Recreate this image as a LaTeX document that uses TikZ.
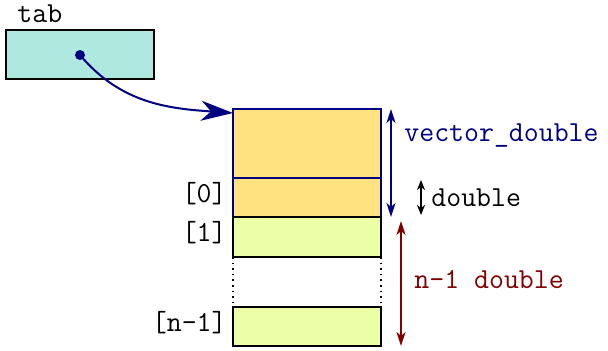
\documentclass[tikz,border=0pt]{standalone}
\usepackage{fontspec}
\usepackage{xcolor}
\usetikzlibrary{arrows.meta, positioning}
\definecolor{tabfill}{HTML}{AEE8DE}
\definecolor{vecfill}{HTML}{FFE380}
\definecolor{elemfill}{HTML}{EDFFA6}
\definecolor{navy}{HTML}{000080}
\definecolor{maroon}{HTML}{800000}
\begin{document}
\begin{tikzpicture}[x=0.5pt, y=-0.5pt, font=\ttfamily\fontsize{14.5}{17}\selectfont,
  cell/.style={draw, line width=1pt, minimum width=74pt, minimum height=20pt, inner sep=0pt, outer sep=0pt},
  vcell/.style={cell, draw=navy, fill=vecfill},
  ecell/.style={cell, draw=black, fill=elemfill},
  dim/.style={{Stealth[length=7pt, width=4.5pt, inset=2pt]}-{Stealth[length=7pt, width=4.5pt, inset=2pt]}, line width=1pt}]
\useasboundingbox (0,0) rectangle (608,351);
\node[cell, fill=tabfill, minimum height=24.5pt, anchor=north west] (tab) at (6,30) {};
\node[anchor=base west, inner sep=0pt] (tablbl) at (17,23) {tab};
\coordinate (ptr) at (80,55);
\node[vcell, minimum height=34.5pt, anchor=north west] (head) at (233,109) {};
\node[vcell, minimum height=19.5pt, below=0pt of head] (e0) {};
\node[ecell, below=0pt of e0] (e1) {};
\node[ecell, minimum height=19.5pt, below=25pt of e1] (en) {};
\draw[dotted, line width=0.8pt] (e1.south west) -- (en.north west);
\draw[dotted, line width=0.8pt] (e1.south east) -- (en.north east);
\node[anchor=north east, inner sep=2pt] (l0) at ([xshift=-1pt]e0.north west) {[0]};
\node[anchor=north east, inner sep=2pt] (l1) at ([xshift=-1pt]e1.north west) {[1]};
\node[anchor=north east, inner sep=2pt] (ln) at ([xshift=-1pt]en.north west) {[n-1]};
\fill[navy] (ptr) circle (2.5pt);
\draw[navy, line width=1pt, -{Stealth[length=16pt, width=10pt, inset=5pt]}] (ptr) to[out=-50, in=176] ([yshift=-2pt]head.north west);
\draw[dim, navy] ([xshift=5pt]head.north east) -- ([xshift=5pt]e0.south east);
\node[navy, anchor=west, inner sep=0pt] (vlbl) at (404,136) {vector\_double};
\draw[dim, {Stealth[length=5pt, width=4pt, inset=1.5pt]}-{Stealth[length=5pt, width=4pt, inset=1.5pt]}] ([xshift=20pt, yshift=-1pt]e0.north east) -- ([xshift=20pt, yshift=1pt]e0.south east);
\node[anchor=west, inner sep=0pt] (dlbl) at (431,198) {double};
\draw[dim, maroon] ([xshift=10pt, yshift=-2pt]e1.north east) -- ([xshift=10pt]en.south east);
\node[maroon, anchor=west, inner sep=0pt] (nlbl) at (414,280) {n-1 double};
\end{tikzpicture}
\end{document}
